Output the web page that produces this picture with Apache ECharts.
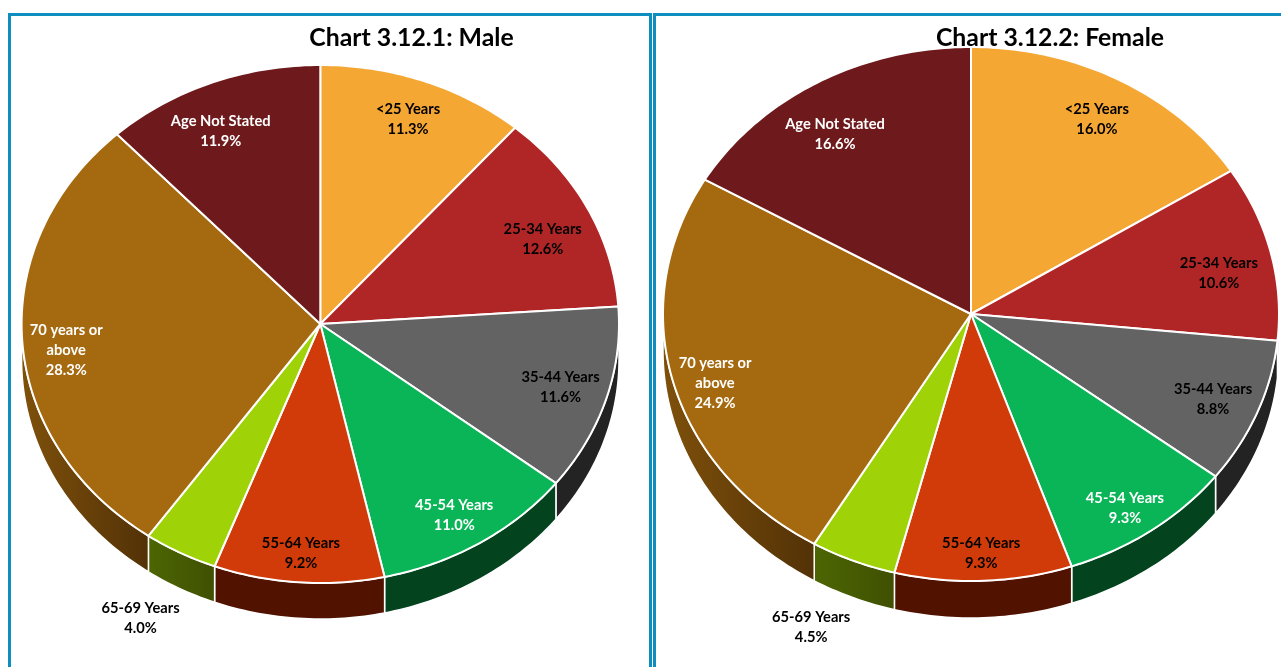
<!DOCTYPE html>
<html>
<head>
<meta charset="utf-8">
<title>Chart 3.12</title>
<style>
	html, body { margin: 0; padding: 0; background: #fff; }
	#main { width: 1281px; height: 667px; }
</style>
<script src="https://cdn.jsdelivr.net/npm/echarts@6/dist/echarts.min.js"></script>
</head>
<body>
<div id="main"></div>
<script>
// data
var categories = ['<25 Years', '25-34 Years', '35-44 Years', '45-54 Years', '55-64 Years', '65-69 Years', '70 years or\nabove', 'Age Not Stated'];
var maleValues = [11.3, 12.6, 11.6, 11.0, 9.2, 4.0, 28.3, 11.9];
var femaleValues = [16.0, 10.6, 8.8, 9.3, 9.3, 4.5, 24.9, 16.6];

// slice styles
var topColors = ['#F5A733', '#B02626', '#636363', '#09B556', '#D13A09', '#9FD307', '#A56A10', '#6E1A1C'];
var sideColors = [['#7a5419', '#7a5419'], ['#581313', '#581313'], ['#232323', '#232323'], ['#03441f', '#03441f'], ['#511300', '#511300'], ['#4d6603', '#3f5002'], ['#7e500b', '#533207'], ['#370d0e', '#370d0e']];
var labelColors = ['#000', '#000', '#000', '#fff', '#000', '#000', '#fff', '#fff'];

// label place: distance from centre (1 = rim) and degrees off the slice's middle
var maleLabelR = [0.847, 0.816, 0.840, 0.861, 0.882, 1.283, 0.855, 0.819];
var maleLabelOff = [0, 2.6, -0.5, 0.8, 0, 0, -2.6, -2.5];
var femaleLabelR = [0.842, 0.823, 0.850, 0.881, 0.892, 1.278, 0.866, 0.807];
var femaleLabelOff = [0.5, 2.3, 0.2, 1, 0, 1.3, -2.5, -3];

var fontName = 'Lato';

// point on the squashed circle, deg runs clockwise from 12 o'clock
function rimPoint(pie, deg, drop) {
	var a = deg * Math.PI / 180;
	return [pie.cx + pie.rx * Math.sin(a), pie.cy - pie.ry * Math.cos(a) + (drop || 0)];
}

function arcPoints(pie, from, to, drop) {
	var pts = [];
	var steps = Math.max(2, Math.ceil(Math.abs(to - from)));
	for(var i = 0; i <= steps; i++) {
		pts.push(rimPoint(pie, from + (to - from) * i / steps, drop));
	}
	return pts;
}

function pieSeries(values, pie, labelR, labelOff) {
	var total = 0;
	for(var i = 0; i < values.length; i++) {
		total += values[i];
	}
	var cum = [0];
	for(var j = 0; j < values.length; j++) {
		cum.push(cum[j] + values[j]);
	}

	return {
		type: 'custom',
		coordinateSystem: 'none',
		silent: true,
		animation: false,
		data: values.map(function(v) { return [v]; }),
		renderItem: function(params, api) {
			var idx = params.dataIndex;
			var start = cum[idx] / total * 360;
			var end = start + api.value(0) / total * 360;
			var kids = [];

			// wall of the slice, only the part facing us
			var wallFrom = Math.max(start, 90);
			var wallTo = Math.min(end, 270);
			if(wallTo > wallFrom) {
				var upper = arcPoints(pie, wallFrom, wallTo, 0);
				var lower = arcPoints(pie, wallTo, wallFrom, pie.depth);
				var xs = upper.concat(lower).map(function(p) { return p[0]; });
				var left = Math.min.apply(null, xs);
				var right = Math.max.apply(null, xs);
				kids.push({
					type: 'polygon',
					z2: 1,
					shape: { points: upper.concat(lower) },
					style: {
						fill: new echarts.graphic.LinearGradient(left, 0, right, 0, [
							{ offset: 0, color: sideColors[idx][0] },
							{ offset: 1, color: sideColors[idx][1] }
						], true),
						stroke: '#fff',
						lineWidth: 1.5,
						lineJoin: 'round'
					}
				});
			}

			// top of the slice
			kids.push({
				type: 'polygon',
				z2: 2,
				shape: { points: [[pie.cx, pie.cy]].concat(arcPoints(pie, start, end, 0)) },
				style: { fill: topColors[idx], stroke: '#fff', lineWidth: 2, lineJoin: 'round' }
			});

			// label
			var mid = (start + end) / 2 + labelOff[idx];
			var a = mid * Math.PI / 180;
			kids.push({
				type: 'text',
				z2: 3,
				x: pie.labelCx + pie.rx * labelR[idx] * Math.sin(a),
				y: pie.cy - pie.ry * labelR[idx] * Math.cos(a) + 1,
				style: {
					text: categories[idx] + '\n' + api.value(0).toFixed(1) + '%',
					fill: labelColors[idx],
					font: 'bold 14.7px ' + fontName,
					lineHeight: 20,
					align: 'center',
					verticalAlign: 'middle'
				}
			});
			return { type: 'group', children: kids };
		}
	};
}

function frameBar(x, y, w, h) {
	return { type: 'rect', silent: true, shape: { x: x, y: y, width: w, height: h }, style: { fill: '#0e8dbf' } };
}

var myChart = echarts.init(document.getElementById('main'), null, { renderer: 'canvas' });
myChart.setOption({
	backgroundColor: '#fff',
	animation: false,
	title: [{
		text: 'Chart 3.12.1: Male',
		left: 406.5,
		top: 21,
		textAlign: 'center',
		textStyle: { fontFamily: fontName, fontWeight: 'bold', fontSize: 24.8, color: '#000' }
	}, {
		text: 'Chart 3.12.2: Female',
		left: 1045,
		top: 21,
		textAlign: 'center',
		textStyle: { fontFamily: fontName, fontWeight: 'bold', fontSize: 24.8, color: '#000' }
	}],
	graphic: [
		frameBar(8, 13, 644, 3),
		frameBar(8, 13, 3, 654),
		frameBar(649, 13, 3, 654),
		frameBar(653, 13, 628, 3),
		frameBar(653, 13, 3, 654)
	],
	series: [
		pieSeries(maleValues, { cx: 320.3, labelCx: 320, cy: 324, rx: 298.7, ry: 259, depth: 36 }, maleLabelR, maleLabelOff),
		pieSeries(femaleValues, { cx: 971, labelCx: 970, cy: 314, rx: 308, ry: 267, depth: 37 }, femaleLabelR, femaleLabelOff)
	]
});
</script>
</body>
</html>
